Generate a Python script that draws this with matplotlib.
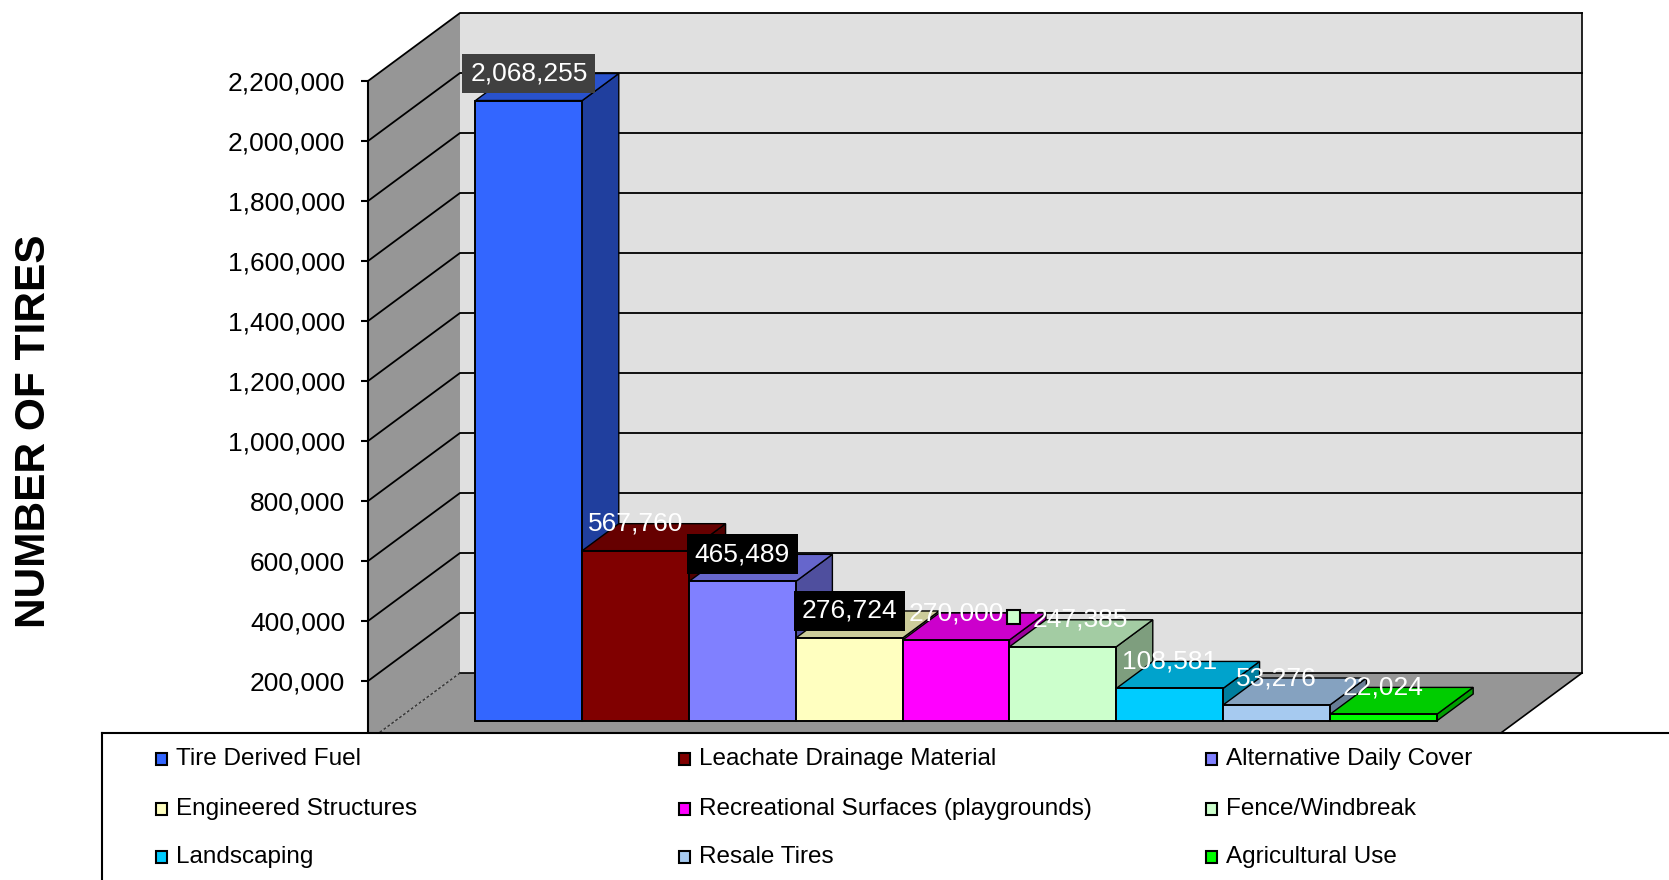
import matplotlib
matplotlib.use('Agg')
import matplotlib.pyplot as plt
from matplotlib.patches import Polygon, Rectangle
import matplotlib.colors as mcolors

# ---------------- data ----------------
categories = ["Tire Derived Fuel", "Leachate Drainage Material", "Alternative Daily Cover",
              "Engineered Structures", "Recreational Surfaces (playgrounds)", "Fence/Windbreak",
              "Landscaping", "Resale Tires", "Agricultural Use"]
values = [2068255, 567760, 465489, 276724, 270000, 247385, 108581, 53276, 22024]
value_labels = ["2,068,255", "567,760", "465,489", "276,724", "270,000",
                "247,385", "108,581", "53,276", "22,024"]
tick_values = [200000, 400000, 600000, 800000, 1000000, 1200000,
               1400000, 1600000, 1800000, 2000000, 2200000]
tick_labels = ["200,000", "400,000", "600,000", "800,000", "1,000,000", "1,200,000",
               "1,400,000", "1,600,000", "1,800,000", "2,000,000", "2,200,000"]
y_title = "NUMBER OF TIRES"

# ---------------- styles ----------------
front_colors = ["#3366FF", "#800000", "#8080FF", "#FFFFC0", "#FF00FF",
                "#CCFFCC", "#00CCFF", "#A6CAF0", "#00FF00"]
label_box_colors = ["#404040", None, "#000000", "#000000", None, None, None, None, None]
label_shift_px = [0, 0, 0, 0, 0, 17, 0, 0, 0]

FONT = ["Liberation Sans", "DejaVu Sans"]
W, H, DPI = 1669, 880, 100

def shade(c, f):
    r, g, b = mcolors.to_rgb(c)
    return (r * f, g * f, b * f)

fig = plt.figure(figsize=(W / DPI, H / DPI), dpi=DPI)
fig.patch.set_facecolor("white")

# front plane axes (pixel layout)
left_px, right_px, top_px, bottom_px = 368, 1490, 81, 741
ax = fig.add_axes([left_px / W, (H - bottom_px) / H,
                   (right_px - left_px) / W, (bottom_px - top_px) / H])
unit_px = 106.8
margin = (right_px - left_px) / unit_px - len(values)
x0 = -0.5 - margin / 2
x1 = len(values) - 0.5 + margin / 2
ymax = 2200000
ax.set_xlim(x0, x1)
ax.set_ylim(0, ymax)
ax.patch.set_visible(False)

px_per_val = (bottom_px - top_px) / ymax
DX = 92 / unit_px            # full depth, x units
DY = 68 / px_per_val         # full depth, value units
f_front = 20 / 68            # bar front depth fraction
f_back = 47 / 68             # bar back depth fraction

def P(x, y, d):
    return (x + d * DX, y + d * DY)

def poly(pts, fc, ec="black", lw=1.0, z=1):
    ax.add_patch(Polygon(pts, closed=True, facecolor=fc, edgecolor=ec,
                         linewidth=lw, zorder=z, clip_on=False))

# walls & floor
poly([P(x0, 0, 0), P(x1, 0, 0), P(x1, 0, 1), P(x0, 0, 1)], "#969696", ec="none", z=1)
poly([P(x0, 0, 0), P(x0, ymax, 0), P(x0, ymax, 1), P(x0, 0, 1)], "#969696", ec="none", z=1)
poly([P(x0, 0, 1), P(x0, ymax, 1), P(x1, ymax, 1), P(x1, 0, 1)], "#E0E0E0", ec="none", z=1)

# floor right edge & back wall right edge
for a, b in [(P(x1, 0, 0), P(x1, 0, 1)), (P(x1, 0, 1), P(x1, ymax, 1)),
             (P(x0, 0, 1), P(x1, 0, 1))]:
    ax.plot([a[0], b[0]], [a[1], b[1]], color="black", lw=1.2, zorder=2, clip_on=False)
a, b = P(x0, 0, 0), P(x0, 0, 1)
ax.plot([a[0], b[0]], [a[1], b[1]], color="#333333", lw=1.0, ls=(0, (2, 1.5)),
        zorder=2, clip_on=False)

# gridlines on back wall and left wall
for t in tick_values:
    a, b, c = P(x0, t, 0), P(x0, t, 1), P(x1, t, 1)
    ax.plot([a[0], b[0], c[0]], [a[1], b[1], c[1]], color="black", lw=1.3,
            zorder=2, clip_on=False)

# bars
for i, (v, col) in enumerate(zip(values, front_colors)):
    xl, xr = i - 0.5, i + 0.5
    z = 3 + i * 0.01
    # side face
    poly([P(xr, 0, f_front), P(xr, v, f_front), P(xr, v, f_back), P(xr, 0, f_back)],
         shade(col, 0.62), z=z)
    # top face
    poly([P(xl, v, f_front), P(xr, v, f_front), P(xr, v, f_back), P(xl, v, f_back)],
         shade(col, 0.8), z=z)
    # front face
    poly([P(xl, 0, f_front), P(xr, 0, f_front), P(xr, v, f_front), P(xl, v, f_front)],
         col, lw=1.4, z=z + 0.005)

# data labels
for i, (v, lab, bc, sh) in enumerate(zip(values, value_labels, label_box_colors,
                                         label_shift_px)):
    lx, ly = i + f_front * DX + sh / unit_px, v + f_back * DY
    kw = {}
    if bc is not None:
        kw["bbox"] = dict(boxstyle="square,pad=0.3", fc=bc, ec="none")
    ax.text(lx, ly, lab, ha="center", va="center", color="white", fontsize=19,
            family=FONT, zorder=20, clip_on=False, **kw)
    if lab == "247,385":
        sq_w, sq_h = 13 / unit_px, 14 / px_per_val
        ax.add_patch(Rectangle((lx - 66 / unit_px - sq_w / 2, ly + 3 / px_per_val - sq_h / 2),
                               sq_w, sq_h, facecolor=front_colors[i], edgecolor="black",
                               lw=1.5, zorder=21, clip_on=False))

# axis styling
for s in ["top", "right", "bottom"]:
    ax.spines[s].set_visible(False)
ax.spines["left"].set_linewidth(1.5)
ax.spines["left"].set_zorder(2.5)
ax.set_xticks([])
ax.set_yticks(tick_values)
ax.set_yticklabels(tick_labels, fontsize=19, family=FONT)
ax.tick_params(axis="y", length=5, width=1.5, pad=11.5, direction="out")

fig.text(34 / W, 1 - 431 / H, y_title, rotation=90, ha="center", va="center",
         fontsize=30.5, fontweight="bold", family=FONT)

# legend box
leg_left, leg_top = 102, 733
lax = fig.add_axes([leg_left / W, 0, (W - leg_left) / W, (H - leg_top) / H])
lax.set_zorder(10)
lax.set_facecolor("white")
lax.set_xlim(0, W - leg_left)
lax.set_ylim(H - leg_top, 0)
lax.set_xticks([]); lax.set_yticks([])
for s in ["right", "bottom"]:
    lax.spines[s].set_visible(False)
for s in ["top", "left"]:
    lax.spines[s].set_linewidth(1.5)

col_x = [156 - leg_left, 679 - leg_left, 1206 - leg_left]
row_y = [26, 76, 124]
for k, (name, col) in enumerate(zip(categories, front_colors)):
    r, c = divmod(k, 3)
    sx, sy = col_x[c], row_y[r]
    lax.add_patch(Rectangle((sx, sy - 6), 11, 12, facecolor=col, edgecolor="black",
                            lw=1.5, clip_on=False))
    lax.text(sx + 20, sy, name, ha="left", va="center", fontsize=17.5,
             family=FONT, color="black")

fig.savefig("out.png", dpi=DPI)
